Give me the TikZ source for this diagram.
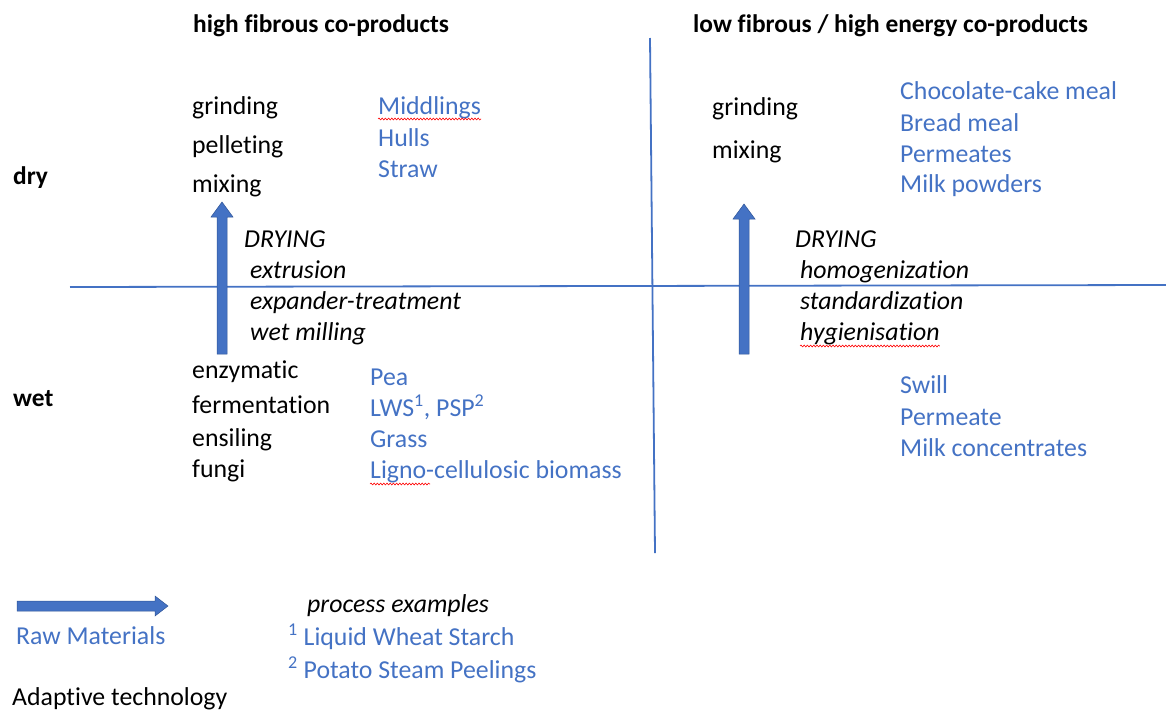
\documentclass[tikz,border=0pt]{standalone}
\usepackage{fontspec}
\setmainfont{Carlito}[Ligatures=CommonOff]
\usetikzlibrary{decorations.pathmorphing}
\definecolor{lineblue}{HTML}{4472C4}
\definecolor{txtblue}{HTML}{4472C4}
\definecolor{arrowedge}{HTML}{2F5597}
\begin{document}
\begin{tikzpicture}[x=1pt,y=-1pt,
  lbl/.style={anchor=base west, inner sep=0pt, font=\fontsize{25.8}{30}\selectfont},
  blk/.style={lbl, text=black},
  blu/.style={lbl, text=txtblue},
  ital/.style={lbl, text=black, font=\fontsize{25.8}{30}\selectfont\itshape},
  headtxt/.style={lbl, text=black, font=\fontsize{25.4}{30}\selectfont\bfseries},
  axisline/.style={draw=lineblue, line width=1.8pt},
  spell/.style={draw=red, line width=0.6pt, decorate, decoration={snake, amplitude=0.9pt, segment length=3.2pt}},
  blockarrow/.style={fill=lineblue, draw=arrowedge, line width=0.5pt}
]
\useasboundingbox (0,0) rectangle (1166,710);

% axes
\coordinate (hL) at (70,287);
\coordinate (hR) at (1166,285);
\coordinate (vT) at (650,38);
\coordinate (vB) at (655,553);
\draw[axisline] (hL) -- (hR);
\draw[axisline] (vT) -- (vB);

% headings
\node[headtxt] (h1) at (193,32) {high fibrous co-products};
\node[headtxt] (h2) at (693,32) {low fibrous / high energy co-products};
\node[headtxt] (dry) at (13,184) {dry};
\node[headtxt] (wet) at (13,406) {wet};

% left upper
\node[blk] (g1) at (192,114) {grinding};
\node[blk] (p1) at (192,153) {pelleting};
\node[blk] (m1) at (192,192) {mixing};
\node[blu] (mid) at (378,114) {Middlings};
\node[blu] (hul) at (378,146) {Hulls};
\node[blu] (stw) at (378,177) {Straw};

% left middle italics
\node[ital] (dr1) at (244,247) {DRYING};
\node[ital] (ext) at (250,278) {extrusion};
\node[ital] (exp) at (250,309) {expander-treatment};
\node[ital] (wml) at (250,340) {wet milling};

% left lower
\node[blk] (enz) at (192,378) {enzymatic};
\node[blk] (fer) at (192,413) {fermentation};
\node[blk] (ens) at (192,446) {ensiling};
\node[blk] (fun) at (192,477) {fungi};
\node[blu] (pea) at (370,385) {Pea};
\node[blu] (lws) at (370,416) {LWS\textsuperscript{1}, PSP\textsuperscript{2}};
\node[blu] (grs) at (370,447) {Grass};
\node[blu] (lig) at (370,478) {Ligno-cellulosic biomass};

% right upper
\node[blk] (g2) at (712,115) {grinding};
\node[blk] (m2) at (712,158) {mixing};
\node[blu] (cho) at (900,99) {Chocolate-cake meal};
\node[blu] (brd) at (900,131) {Bread meal};
\node[blu] (prm) at (900,162) {Permeates};
\node[blu] (mpw) at (900,192) {Milk powders};

% right middle italics
\node[ital] (dr2) at (795,247) {DRYING};
\node[ital] (hom) at (800,278) {homogenization};
\node[ital] (std) at (800,309) {standardization};
\node[ital] (hyg) at (800,340) {hygienisation};

% right lower
\node[blu] (swl) at (900,393) {Swill};
\node[blu] (pmt) at (900,425) {Permeate};
\node[blu] (mcc) at (900,456) {Milk concentrates};

% legend
\node[ital] (pex) at (307,612) {process examples};
\node[blu] (raw) at (16,644) {Raw Materials};
\node[blu] (lwsf) at (288,645) {\textsuperscript{1} Liquid Wheat Starch};
\node[blu] (pspf) at (288,678) {\textsuperscript{2} Potato Steam Peelings};
\node[blk] (ada) at (12,705) {Adaptive technology};

% spell-check underlines
\draw[spell] ([yshift=-5pt]mid.base west) -- ([yshift=-5pt]mid.base east);
\draw[spell] ([yshift=-6pt]lig.base west) -- ++(60,0);
\draw[spell] ([yshift=-6pt]hyg.base west) -- ([yshift=-6pt]hyg.base east);

% block arrows (up)
\fill[blockarrow] (217,354) -- (227,354) -- (227,217) -- (233,217) -- (222,202) -- (211,217) -- (217,217) -- cycle;
\fill[blockarrow] (739,354) -- (749,354) -- (749,219) -- (755,219) -- (744,204) -- (733,219) -- (739,219) -- cycle;
% legend block arrow (right)
\fill[blockarrow] (17,601) -- (155,601) -- (155,596) -- (168,606) -- (155,616) -- (155,611) -- (17,611) -- cycle;
\end{tikzpicture}
\end{document}
